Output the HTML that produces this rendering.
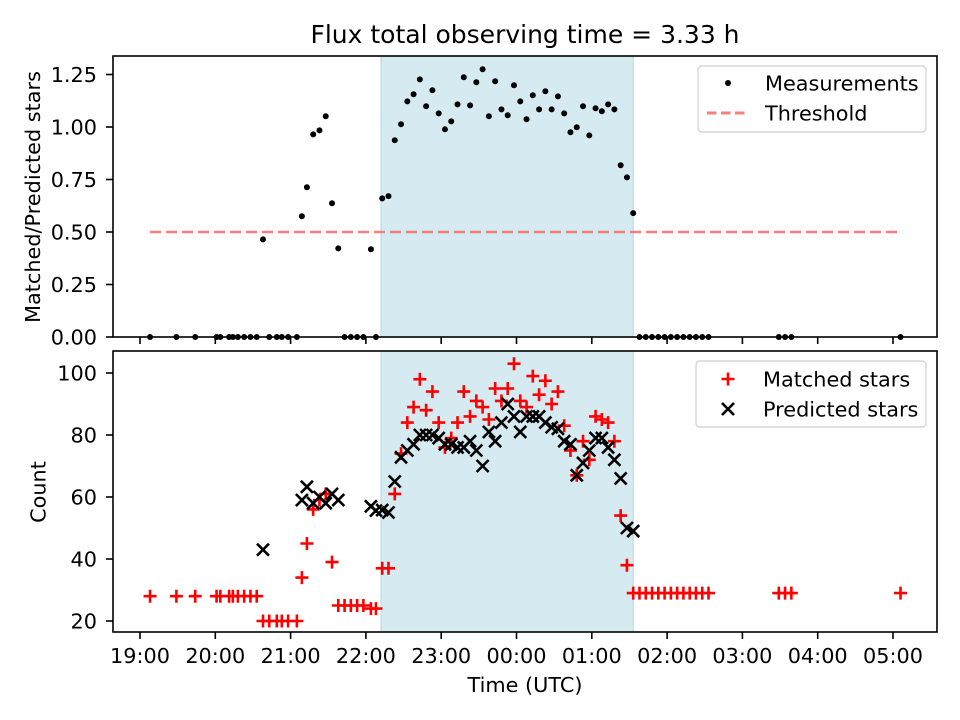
<!DOCTYPE html>
<html><head><meta charset="utf-8"><style>
body{margin:0;background:#fff}
svg{display:block;font-family:"DejaVu Sans","Liberation Sans",sans-serif}
</style></head><body>
<svg id="chart" width="960" height="720" viewBox="0 0 960 720" xmlns="http://www.w3.org/2000/svg">
<rect width="960" height="720" fill="#fff"/>
<text x="525" y="43" font-size="25" text-anchor="middle">Flux total observing time = 3.33 h</text>
<g id="topPanel"></g>
<g id="botPanel"></g>
<text transform="translate(40,197) rotate(-90)" font-size="20.8" text-anchor="middle">Matched/Predicted stars</text>
<text transform="translate(45.5,492) rotate(-90)" font-size="20.8" text-anchor="middle">Count</text>
<text x="525" y="692" font-size="20.8" text-anchor="middle">Time (UTC)</text>
</svg>
<script>
// minutes since 19:00 UTC
const times = [8,29,44,61,64,71,74,78,83,88,93,98,103,109,113,118,125,129,133,138,143,148,153,158,163,168,173,178,184,188,193,198,
203,208,213,218,223,228,233,238,243,248,253,258,263,268,273,278,283,288,293,298,303,308,313,318,323,328,333,338,343,348,353,358,363,368,373,378,383,388,393,
398,403,408,413,418,423,428,433,438,443,448,453,509,514,519,606];
const matched = [28,28,28,28,28,28,28,28,28,28,28,20,20,20,20,20,20,34,45,56,59,61,39,25,25,25,25,25,24,24,37,37,
61,74,84,89,98,88,94,84,76,79,84,94,86,91,89,85,95,91,95,103,91,89,99,93,97.5,90,94,83,75,67,78,72,86,85,84,78,54,38,29,
29,29,29,29,29,29,29,29,29,29,29,29,29,29,29,29];
const predicted = [null,null,null,null,null,null,null,null,null,null,null,43,null,null,null,null,null,59,63.3,58,60,58,61,59,null,null,null,null,57,55.6,55.8,55,
65,72.8,75,77,80,80,80,79,77,77,76,76,78,75,70,81,78,84,90,86,81,86,86,86,84,82.5,82,78,77,67,71,75,79,79,76,72,66,50,49,
null,null,null,null,null,null,null,null,null,null,null,null,null,null,null,null];
const ratio = [0,0,0,0,0,0,0,0,0,0,0,0.465,0,0,0,0,0,0.575,0.713,0.965,0.984,1.051,0.637,0.422,0,0,0,0,0.418,0,0.66,0.671,
0.937,1.013,1.122,1.156,1.227,1.099,1.175,1.065,0.989,1.027,1.108,1.237,1.103,1.213,1.275,1.051,1.218,1.084,1.056,1.199,1.122,1.037,1.151,1.084,1.170,1.084,1.146,1.065,0.975,0.999,1.099,0.960,1.089,1.075,1.108,1.084,0.818,0.760,0.590,
0,0,0,0,0,0,0,0,0,0,0,0,0,0,0,0];
const threshold = 0.5;
const thresholdRange = [8,606];
const shadeRange = [192,393];
const xTickValues = [0,60,120,180,240,300,360,420,480,540,600];
const xTickLabels = ["19:00","20:00","21:00","22:00","23:00","00:00","01:00","02:00","03:00","04:00","05:00"];
const topTicks = [0,0.25,0.5,0.75,1.0,1.25];
const topTickLabels = ["0.00","0.25","0.50","0.75","1.00","1.25"];
const botTicks = [20,40,60,80,100];

const NS="http://www.w3.org/2000/svg";
const AX0=113, AX1=937;
const FS=20.8;
const xS = m => 140 + m*75.3/60;
const yT = v => 337 - v*210;
const yB = v => 621 - (v-20)*3.1;
function mk(parent, tag, attrs){const e=document.createElementNS(NS,tag);for(const k in attrs)e.setAttribute(k,attrs[k]);parent.appendChild(e);return e;}

function panel(g, y0, y1, yTicks, yLabels, yFn, xLabels, nm){
  let s=mk(g,'rect',{x:xS(shadeRange[0]),y:y0,width:xS(shadeRange[1])-xS(shadeRange[0]),height:y1-y0,fill:'#d5eaf1',stroke:'#b5d8e4','stroke-width':1});
  
  
  yTicks.forEach((v,i)=>{
    const y=yFn(v);
    let t=mk(g,'line',{x1:AX0-7,x2:AX0,y1:y,y2:y,stroke:'#000','stroke-width':1.6});
    
    
    let l=mk(g,'text',{x:AX0-16,y:y+7.5,'font-size':FS,'text-anchor':'end'});
    l.textContent=yLabels[i];
    
    
  });
  xTickValues.forEach((m,i)=>{
    const x=xS(m);
    let t=mk(g,'line',{x1:x,x2:x,y1:y1,y2:y1+7,stroke:'#000','stroke-width':1.6});
    
    
    if(xLabels){
      let l=mk(g,'text',{x:x,y:y1+31,'font-size':FS,'text-anchor':'middle'});
      l.textContent=xTickLabels[i];
      
      
    }
  });
}

const topG=document.getElementById('topPanel'), botG=document.getElementById('botPanel');
panel(topG,56,337,topTicks,topTickLabels,yT,false,'ratio');
panel(botG,351,632,botTicks,botTicks.map(String),yB,true,'count');

// threshold
let th=mk(topG,'line',{x1:xS(thresholdRange[0]),x2:xS(thresholdRange[1]),y1:yT(threshold),y2:yT(threshold),stroke:'#f47f7f','stroke-width':2.5,'stroke-dasharray':'11 5'});



// measurements
times.forEach((m,i)=>{
  let c=mk(topG,'circle',{cx:xS(m),cy:yT(ratio[i]),r:3,fill:'#000'});
  
  
});
// matched (+)
times.forEach((m,i)=>{
  const x=xS(m), y=yB(matched[i]);
  let p=mk(botG,'path',{d:`M${x-6.5},${y}H${x+6.5}M${x},${y-6.5}V${y+6.5}`,stroke:'#f00','stroke-width':2.6,fill:'none'});
  
  
});
// predicted (x)
times.forEach((m,i)=>{
  if(predicted[i]===null) return;
  const x=xS(m), y=yB(predicted[i]);
  let p=mk(botG,'path',{d:`M${x-6},${y-6}L${x+6},${y+6}M${x-6},${y+6}L${x+6},${y-6}`,stroke:'#000','stroke-width':2.6,fill:'none'});
  
  
});

// frames
[[topG,56,337],[botG,351,632]].forEach(([g,t,b])=>{
  let f=mk(g,'rect',{x:AX0,y:t,width:AX1-AX0,height:b-t,fill:'none',stroke:'#000','stroke-width':1.6});
  
  
});

// legends
function legend(g,x,y,w,h,nm){
  let r=mk(g,'rect',{x:x,y:y,width:w,height:h,rx:4,fill:'#fff','fill-opacity':0.8,stroke:'#d5d5d5','stroke-width':1.4});
  
  
}
legend(topG,698,66,228,66,'ratio-legend');
let ld=mk(topG,'circle',{cx:728,cy:83,r:3,fill:'#000'});


let lt1=mk(topG,'text',{x:765,y:90.5,'font-size':FS});lt1.textContent='Measurements';


let ll=mk(topG,'line',{x1:707,x2:749,y1:113,y2:113,stroke:'#f47f7f','stroke-width':3,'stroke-dasharray':'9.5 4.5'});


let lt2=mk(topG,'text',{x:765,y:120.5,'font-size':FS});lt2.textContent='Threshold';



legend(botG,696,361,230,66,'count-legend');
let lp=mk(botG,'path',{d:'M721.5,379H734.5M728,372.5V385.5',stroke:'#f00','stroke-width':2.6});


let lt3=mk(botG,'text',{x:763,y:386.5,'font-size':FS});lt3.textContent='Matched stars';


let lx=mk(botG,'path',{d:'M722,403L734,415M722,415L734,403',stroke:'#000','stroke-width':2.6});


let lt4=mk(botG,'text',{x:763,y:416.5,'font-size':FS});lt4.textContent='Predicted stars';


</script>
</body></html>
